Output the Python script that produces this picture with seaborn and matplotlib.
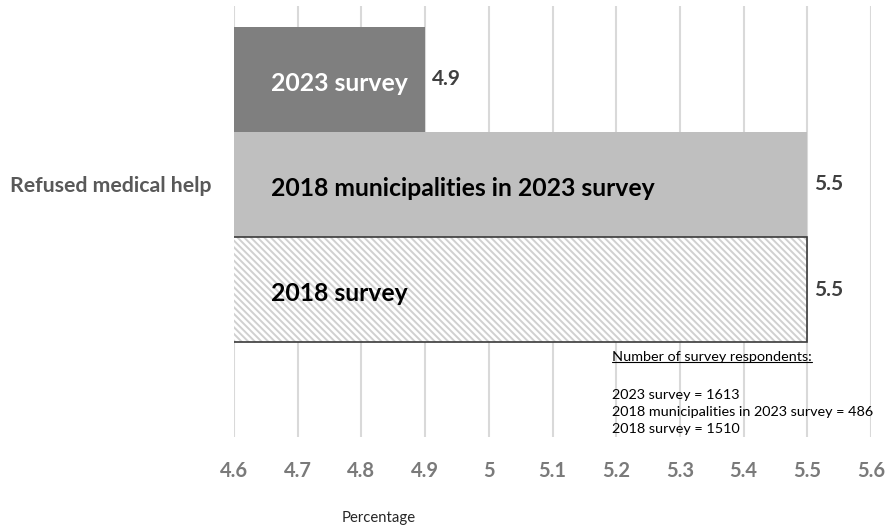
import pandas as pd
import seaborn as sns
import matplotlib.pyplot as plt
from matplotlib.lines import Line2D

# chart data
category = ["Refused medical help"]
surveys = ["2023 survey", "2018 municipalities in 2023 survey", "2018 survey"]
values = [4.9, 5.5, 5.5]
x_ticks = [4.6, 4.7, 4.8, 4.9, 5.0, 5.1, 5.2, 5.3, 5.4, 5.5, 5.6]
note_title = "Number of survey respondents:"
note_lines = ["2023 survey = 1613",
              "2018 municipalities in 2023 survey = 486",
              "2018 survey = 1510"]


def main():
    df = pd.DataFrame({
        "category": category * len(surveys),
        "survey": surveys,
        "value": values,
    })

    sns.set_theme(style="white")
    plt.rcParams['font.family'] = ['Lato', 'DejaVu Sans']
    plt.rcParams['hatch.linewidth'] = 1.4

    fig = plt.figure(figsize=(8.88, 5.32), dpi=100)
    W, H = 888, 532
    ax = fig.add_axes([234 / W, 1 - 437 / H, (871 - 234) / W, (437 - 6) / H])

    sns.barplot(data=df, x="value", y="category", hue="survey", hue_order=surveys,
                orient="h", ax=ax, legend=False, width=0.8, saturation=1)

    fills = ["#7f7f7f", "#bfbfbf", "white"]
    for cont, fc in zip(ax.containers, fills):
        for p in cont:
            p.set_facecolor(fc)
            p.set_linewidth(0)
    # hatched 2018 bar
    for p in ax.containers[2]:
        p.set_hatch("\\" * 5)
        p.set_edgecolor("#d0d0d0")
        p.set_linewidth(0)
        ax.add_patch(plt.Rectangle(p.get_xy(), p.get_width(), p.get_height(),
                                   fill=False, edgecolor="#3a3a3a", linewidth=1.2,
                                   zorder=3))

    ax.set_xlim(4.6, 5.6)
    ax.set_ylim(0.641, -0.453)
    ax.set_xticks(x_ticks)
    ax.set_xticklabels([f"{v:g}" for v in x_ticks])
    ax.xaxis.grid(True, color="#d9d9d9", linewidth=1.5)
    ax.set_axisbelow(True)
    for s in ax.spines.values():
        s.set_visible(False)
    ax.tick_params(axis="x", length=0, pad=17, labelsize=14.5, labelcolor="#7a7a7a")
    ax.tick_params(axis="y", length=0, pad=16, labelsize=15.3, labelcolor="#595959")
    for lbl in ax.get_xticklabels() + ax.get_yticklabels():
        lbl.set_fontweight("bold")
    ax.set_xlabel("")
    ax.set_ylabel("")

    # labels inside bars and value labels
    text_colors = ["white", "black", "black"]
    for cont, name, tc in zip(ax.containers, surveys, text_colors):
        p = cont[0]
        yc = p.get_y() + p.get_height() / 2
        ax.annotate(name, xy=(4.6, yc), xytext=(26.5, -3), textcoords="offset points",
                    ha="left", va="center", fontsize=17.8, fontweight="bold", color=tc,
                    zorder=4)
        ax.bar_label(cont, labels=[f"{v:g}" for v in cont.datavalues], padding=5,
                     fontsize=15, fontweight="bold", color="#404040")

    # respondents note
    t = fig.text(612 / W, 1 - 357 / H, note_title, fontsize=10.4, color="black",
                 ha="left", va="center")
    for i, line in enumerate(note_lines):
        fig.text(612 / W, 1 - (395 + 17 * i) / H, line, fontsize=10.4, color="black",
                 ha="left", va="center")
    fig.canvas.draw()
    bb = t.get_window_extent().transformed(fig.transFigure.inverted())
    fig.add_artist(Line2D([bb.x0, bb.x1], [bb.y0 + 0.002, bb.y0 + 0.002],
                          transform=fig.transFigure, color="black", linewidth=0.8))

    fig.text(379 / W, 1 - 518 / H, "Percentage", fontsize=10.7, color="#262626",
             ha="center", va="center")

    fig.savefig("out.png", dpi=100)


if __name__ == '__main__':
    main()
